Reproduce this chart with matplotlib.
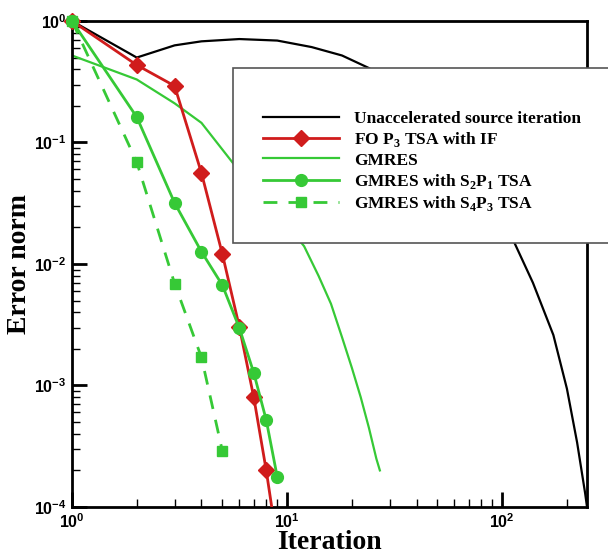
import numpy as np
import matplotlib
matplotlib.use("Agg")
import matplotlib.pyplot as plt
from matplotlib.patches import Rectangle
from matplotlib.ticker import LogLocator, FuncFormatter, NullFormatter

plt.rcParams['mathtext.fontset'] = 'custom'
plt.rcParams['mathtext.rm'] = 'Liberation Serif:bold'
plt.rcParams['mathtext.bf'] = 'Liberation Serif:bold'
plt.rcParams['mathtext.sf'] = 'Liberation Sans:bold'

# error norm vs iteration for each scheme
si_iter = [1, 2, 3, 4, 6, 9, 13, 18, 24, 35, 50, 80, 112, 139, 173, 200, 223, 243, 248]
si_err = [1.0, 0.5, 0.63, 0.68, 0.71, 0.69, 0.61, 0.52, 0.41, 0.26, 0.135, 0.046,
          0.016, 0.007, 0.0026, 9.4e-4, 3.4e-4, 1.3e-4, 1.0e-4]

fo_iter = [1, 2, 3, 4, 5, 6, 7, 8, 9]
fo_err = [1.0, 0.434, 0.292, 0.056, 0.0121, 0.00303, 8.0e-4, 2.0e-4, 5.0e-5]

gm_iter = [1, 2, 3, 4, 6, 8, 10, 12, 14, 16, 18, 20, 22, 24, 26, 27]
gm_err = [0.52, 0.33, 0.21, 0.145, 0.058, 0.033, 0.021, 0.014, 0.008, 0.0047,
          0.0025, 0.0014, 8.0e-4, 4.5e-4, 2.5e-4, 2.0e-4]

s2_iter = [1, 2, 3, 4, 5, 6, 7, 8, 9]
s2_err = [1.0, 0.162, 0.0318, 0.0126, 0.0067, 0.00297, 0.00127, 5.2e-4, 1.77e-4]

s4_iter = [1, 2, 3, 4, 5]
s4_err = [1.0, 0.069, 0.0069, 0.0017, 2.9e-4]

labels = ['Unaccelerated source iteration',
          r'FO P$_{\mathbf{3}}$ TSA with IF',
          'GMRES',
          r'GMRES with S$_{\mathbf{2}}$P$_{\mathbf{1}}$ TSA',
          r'GMRES with S$_{\mathbf{4}}$P$_{\mathbf{3}}$ TSA']

red = '#d01c1c'
green = '#36c936'

fig = plt.figure(figsize=(6.08, 5.55), dpi=100)
ax = fig.add_axes([0.1184, 0.0865, 0.8471, 0.8757])


def curve(x, y, **kw):
    # line is clipped to the axes, markers inside the range may spill over the frame
    x = np.asarray(x)
    y = np.asarray(y)
    mk = kw.pop('marker', None)
    ms = kw.pop('ms', 0)
    line, = ax.plot(x, y, **kw)
    if mk:
        keep = y >= 1e-4
        ax.plot(x[keep], y[keep], ls='none', marker=mk, ms=ms, color=kw['color'],
                clip_on=False, zorder=kw.get('zorder', 2))
        line.set_marker(mk)
        line.set_markersize(ms)
        line.set_markevery([])
    return line


h1 = curve(si_iter, si_err, color='black', lw=1.6)
h2 = curve(fo_iter, fo_err, color=red, lw=2.0, marker='D', ms=8, zorder=3)
h3 = curve(gm_iter, gm_err, color=green, lw=1.6)
h4 = curve(s2_iter, s2_err, color=green, lw=2.0, marker='o', ms=8.5, zorder=4)
h5 = curve(s4_iter, s4_err, color=green, lw=2.0, ls=(0, (5, 4)), marker='s', ms=7, zorder=4)

ax.set_xscale('log')
ax.set_yscale('log')
ax.set_xlim(1, 248)
ax.set_ylim(1e-4, 1)

for s in ax.spines.values():
    s.set_linewidth(2.0)

sup = FuncFormatter(lambda v, p: r'$\mathsf{10^{%d}}$' % int(round(np.log10(v))))
ax.xaxis.set_major_locator(LogLocator(base=10, numticks=10))
ax.yaxis.set_major_locator(LogLocator(base=10, numticks=10))
ax.xaxis.set_minor_locator(LogLocator(base=10, subs=np.arange(2, 10), numticks=20))
ax.yaxis.set_minor_locator(LogLocator(base=10, subs=np.arange(2, 10), numticks=20))
ax.xaxis.set_major_formatter(sup)
ax.yaxis.set_major_formatter(sup)
ax.xaxis.set_minor_formatter(NullFormatter())
ax.yaxis.set_minor_formatter(NullFormatter())
ax.tick_params(which='major', direction='in', length=11, width=2, labelsize=11.5,
               top=False, right=False)
ax.tick_params(axis='x', which='major', pad=4)
ax.tick_params(axis='y', which='major', pad=4)
ax.tick_params(which='minor', direction='in', length=6, width=1, top=False, right=False)

ax.set_xlabel('Iteration', fontfamily='Liberation Serif', fontweight='bold',
              fontsize=20, labelpad=-1)
ax.set_ylabel('Error norm', fontfamily='Liberation Serif', fontweight='bold',
              fontsize=20, labelpad=1)

# white legend panel sitting over the upper right of the plot
fig.patches.append(Rectangle((0.383, 0.5622), 0.65, 0.3153, transform=fig.transFigure,
                             facecolor='white', edgecolor='#555555', lw=1.2,
                             zorder=10, clip_on=False))
leg = fig.legend([h1, h2, h3, h4, h5], labels, loc='upper left',
                 bbox_to_anchor=(0.432, 0.800), frameon=False,
                 prop={'family': 'Liberation Serif', 'weight': 'bold', 'size': 12.5},
                 handlelength=4.4, handletextpad=0.85, labelspacing=0.18,
                 borderpad=0, borderaxespad=0, numpoints=1)
leg.set_zorder(11)

fig.savefig('out.png', dpi=100)
